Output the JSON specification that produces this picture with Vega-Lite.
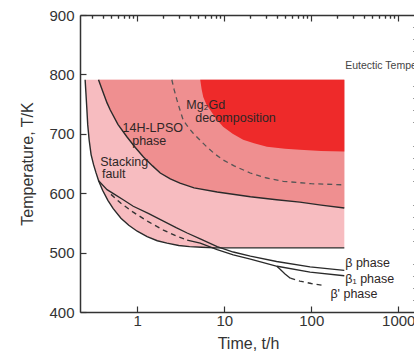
{
  "$schema": "https://vega.github.io/schema/vega-lite/v6.json",
  "width": 336,
  "height": 297,
  "autosize": {"type": "none"},
  "padding": {"left": 80, "top": 15, "right": 0, "bottom": 42},
  "background": "white",
  "config": {
    "view": {"stroke": null},
    "font": "Liberation Sans",
    "axis": {
      "domainColor": "#333333",
      "domainWidth": 1.5,
      "tickColor": "#333333",
      "tickWidth": 1.2,
      "labelColor": "#333333",
      "titleColor": "#333333",
      "labelFont": "Liberation Sans",
      "titleFont": "Liberation Sans",
      "titleFontWeight": "normal",
      "grid": false
    }
  },
  "datasets": {
    "sf": [
      {"t": 0.252, "T": 791}, {"t": 0.257, "T": 770}, {"t": 0.263, "T": 745}, {"t": 0.27, "T": 715},
      {"t": 0.28, "T": 690}, {"t": 0.295, "T": 665}, {"t": 0.315, "T": 648}, {"t": 0.335, "T": 635},
      {"t": 0.36, "T": 621}, {"t": 0.4, "T": 605}, {"t": 0.46, "T": 588}, {"t": 0.53, "T": 574},
      {"t": 0.65, "T": 558}, {"t": 0.8, "T": 546}, {"t": 1.0, "T": 536}, {"t": 1.3, "T": 527},
      {"t": 1.7, "T": 520}, {"t": 2.2, "T": 516}, {"t": 3.0, "T": 512}, {"t": 4.0, "T": 510},
      {"t": 5.5, "T": 509}, {"t": 8, "T": 508}, {"t": 240, "T": 508}
    ],
    "lpso": [
      {"t": 0.359, "T": 791}, {"t": 0.41, "T": 768}, {"t": 0.45, "T": 752}, {"t": 0.49, "T": 740},
      {"t": 0.6, "T": 716}, {"t": 0.76, "T": 695}, {"t": 0.95, "T": 677}, {"t": 1.18, "T": 661},
      {"t": 1.5, "T": 646}, {"t": 1.84, "T": 634}, {"t": 2.4, "T": 624}, {"t": 3.1, "T": 617},
      {"t": 4.5, "T": 609}, {"t": 8.3, "T": 602}, {"t": 20, "T": 594}, {"t": 40, "T": 589},
      {"t": 74, "T": 585}, {"t": 130, "T": 580}, {"t": 240, "T": 575}
    ],
    "mggd": [
      {"t": 2.5, "T": 791}, {"t": 2.65, "T": 775}, {"t": 2.86, "T": 757}, {"t": 3.1, "T": 740},
      {"t": 3.38, "T": 723}, {"t": 3.9, "T": 710}, {"t": 4.4, "T": 701}, {"t": 5.3, "T": 689},
      {"t": 6.3, "T": 678}, {"t": 7.8, "T": 666}, {"t": 9.7, "T": 656}, {"t": 13, "T": 646},
      {"t": 19.9, "T": 634}, {"t": 30, "T": 626}, {"t": 47.6, "T": 620}, {"t": 100, "T": 616},
      {"t": 240, "T": 614}
    ],
    "red": [
      {"t": 5.3, "T": 791}, {"t": 5.5, "T": 775}, {"t": 5.74, "T": 762}, {"t": 6.2, "T": 750},
      {"t": 6.9, "T": 740}, {"t": 8, "T": 726}, {"t": 9.7, "T": 712}, {"t": 12.5, "T": 700},
      {"t": 16.5, "T": 690}, {"t": 22, "T": 684}, {"t": 31, "T": 678}, {"t": 50, "T": 675},
      {"t": 74, "T": 673}, {"t": 130, "T": 671}, {"t": 240, "T": 670}
    ],
    "beta": [
      {"t": 0.36, "T": 621}, {"t": 0.45, "T": 606}, {"t": 0.55, "T": 598}, {"t": 0.69, "T": 589},
      {"t": 0.9, "T": 578}, {"t": 1.34, "T": 566}, {"t": 2, "T": 553}, {"t": 2.8, "T": 542},
      {"t": 3.75, "T": 533}, {"t": 5.3, "T": 523}, {"t": 8.3, "T": 510}, {"t": 12.7, "T": 501},
      {"t": 20, "T": 494}, {"t": 40, "T": 485}, {"t": 97, "T": 476}, {"t": 240, "T": 470}
    ],
    "beta1": [
      {"t": 3.75, "T": 521}, {"t": 5.3, "T": 516}, {"t": 8.3, "T": 505}, {"t": 12.7, "T": 496},
      {"t": 20, "T": 489}, {"t": 40.6, "T": 477}, {"t": 97, "T": 467}, {"t": 240, "T": 461}
    ],
    "dashes": [
      {"seg": "a", "t": 0.5, "T": 598}, {"seg": "a", "t": 0.65, "T": 583}, {"seg": "a", "t": 0.9, "T": 568},
      {"seg": "a", "t": 1.34, "T": 552}, {"seg": "a", "t": 2, "T": 538}, {"seg": "a", "t": 2.8, "T": 528},
      {"seg": "a", "t": 3.75, "T": 521},
      {"seg": "b", "t": 57.5, "T": 457}, {"seg": "b", "t": 74, "T": 452}, {"seg": "b", "t": 100, "T": 448},
      {"seg": "b", "t": 135, "T": 445}
    ],
    "branch": [
      {"t": 40.2, "T": 477}, {"t": 43.9, "T": 472}, {"t": 50, "T": 464}, {"t": 57.5, "T": 457}
    ],
    "labelsLeft": [
      {"t": 3.66, "T": 748, "label": "Mg₂Gd"},
      {"t": 4.64, "T": 727, "label": "decomposition"},
      {"t": 0.376, "T": 653, "label": "Stacking"},
      {"t": 0.393, "T": 632, "label": "fault"},
      {"t": 246, "T": 482, "label": "β  phase"},
      {"t": 246, "T": 456, "label": "β₁ phase"},
      {"t": 166, "T": 430, "label": "β' phase"}
    ],
    "labelsCenter": [
      {"t": 1.507, "T": 710, "label": "14H-LPSO"},
      {"t": 1.374, "T": 688, "label": "phase"}
    ],
    "eutectic": [
      {"t": 246, "T": 814, "label": "Eutectic Temperature"}
    ]
  },
  "resolve": {"axis": {"x": "independent", "y": "independent"}},
  "layer": [
    {
      "data": {"name": "sf"},
      "mark": {"type": "area", "color": "#f7bcc0"},
      "encoding": {
        "x": {
          "field": "t", "type": "quantitative",
          "scale": {"type": "log", "domain": [0.22, 1600], "nice": false},
          "axis": {
            "values": [1, 10, 100, 1000],
            "format": "d",
            "tickSize": -6,
            "labelOverlap": false,
            "labelFlush": false,
            "labelFontSize": 15,
            "labelPadding": 7,
            "title": "Time,  t/h",
            "titleFontSize": 16,
            "titlePadding": 7
          }
        },
        "y": {
          "field": "T", "type": "quantitative",
          "scale": {"domain": [400, 900], "nice": false, "zero": false},
          "axis": {
            "values": [400, 500, 600, 700, 800, 900],
            "format": "d",
            "tickSize": -6,
            "labelOverlap": false,
            "labelFlush": false,
            "labelFontSize": 15,
            "labelPadding": 12,
            "title": "Temperature,  T/K",
            "titleFontSize": 16,
            "titlePadding": 13
          }
        },
        "y2": {"datum": 791}
      }
    },
    {
      "data": {"name": "lpso"},
      "mark": {"type": "area", "color": "#ef8f90"},
      "encoding": {
        "x": {
          "field": "t", "type": "quantitative",
          "axis": {
            "values": [0.3, 0.4, 0.5, 0.6, 0.7, 0.8, 0.9, 2, 3, 4, 5, 6, 7, 8, 9, 20, 30, 40, 50, 60, 70, 80, 90, 200, 300, 400, 500, 600, 700, 800, 900],
            "labels": false,
            "domain": false,
            "tickSize": -3,
            "title": null
          }
        },
        "y": {
          "field": "T", "type": "quantitative",
          "axis": {
            "values": [420, 440, 460, 480, 520, 540, 560, 580, 620, 640, 660, 680, 720, 740, 760, 780, 820, 840, 860, 880],
            "labels": false,
            "domain": false,
            "tickSize": -3,
            "title": null
          }
        },
        "y2": {"datum": 791}
      }
    },
    {
      "data": {"name": "red"},
      "mark": {"type": "area", "color": "#ee2a2a"},
      "encoding": {
        "x": {
          "field": "t", "type": "quantitative",
          "axis": {
            "orient": "top",
            "values": [1, 10, 100, 1000],
            "labels": false,
            "tickSize": -6,
            "title": null
          }
        },
        "y": {"field": "T", "type": "quantitative", "axis": null},
        "y2": {"datum": 791}
      }
    },
    {
      "data": {"name": "sf"},
      "mark": {"type": "line", "color": "#2a2a2a", "strokeWidth": 1.4},
      "encoding": {
        "x": {
          "field": "t", "type": "quantitative",
          "axis": {
            "orient": "top",
            "values": [0.3, 0.4, 0.5, 0.6, 0.7, 0.8, 0.9, 2, 3, 4, 5, 6, 7, 8, 9, 20, 30, 40, 50, 60, 70, 80, 90, 200, 300, 400, 500, 600, 700, 800, 900],
            "labels": false,
            "domain": false,
            "tickSize": -3,
            "title": null
          }
        },
        "y": {"field": "T", "type": "quantitative", "axis": null}
      }
    },
    {
      "data": {"name": "lpso"},
      "mark": {"type": "line", "color": "#2a2a2a", "strokeWidth": 1.4},
      "encoding": {
        "x": {"field": "t", "type": "quantitative", "axis": null},
        "y": {"field": "T", "type": "quantitative", "axis": null}
      }
    },
    {
      "data": {"name": "mggd"},
      "mark": {"type": "line", "color": "#555555", "strokeWidth": 1.3, "strokeDash": [5, 4]},
      "encoding": {
        "x": {"field": "t", "type": "quantitative", "axis": null},
        "y": {"field": "T", "type": "quantitative", "axis": null}
      }
    },
    {
      "data": {"name": "beta"},
      "mark": {"type": "line", "color": "#2a2a2a", "strokeWidth": 1.3},
      "encoding": {
        "x": {"field": "t", "type": "quantitative", "axis": null},
        "y": {"field": "T", "type": "quantitative", "axis": null}
      }
    },
    {
      "data": {"name": "beta1"},
      "mark": {"type": "line", "color": "#2a2a2a", "strokeWidth": 1.3},
      "encoding": {
        "x": {"field": "t", "type": "quantitative", "axis": null},
        "y": {"field": "T", "type": "quantitative", "axis": null}
      }
    },
    {
      "data": {"name": "branch"},
      "mark": {"type": "line", "color": "#2a2a2a", "strokeWidth": 1.3},
      "encoding": {
        "x": {"field": "t", "type": "quantitative", "axis": null},
        "y": {"field": "T", "type": "quantitative", "axis": null}
      }
    },
    {
      "data": {"name": "dashes"},
      "mark": {"type": "line", "color": "#333333", "strokeWidth": 1.4, "strokeDash": [5, 4]},
      "encoding": {
        "x": {"field": "t", "type": "quantitative", "axis": null},
        "y": {"field": "T", "type": "quantitative", "axis": null},
        "detail": {"field": "seg"}
      }
    },
    {
      "mark": {"type": "rule", "color": "#333333", "strokeWidth": 1.5, "strokeDash": [6, 4]},
      "encoding": {
        "y": {"datum": 798, "type": "quantitative", "axis": null}
      }
    },
    {
      "data": {"name": "labelsLeft"},
      "mark": {"type": "text", "align": "left", "baseline": "middle", "fontSize": 12.5, "color": "#2e2626", "font": "Liberation Sans"},
      "encoding": {
        "x": {"field": "t", "type": "quantitative", "axis": null},
        "y": {"field": "T", "type": "quantitative", "axis": null},
        "text": {"field": "label"}
      }
    },
    {
      "data": {"name": "labelsCenter"},
      "mark": {"type": "text", "align": "center", "baseline": "middle", "fontSize": 12.5, "color": "#2e2626", "font": "Liberation Sans"},
      "encoding": {
        "x": {"field": "t", "type": "quantitative", "axis": null},
        "y": {"field": "T", "type": "quantitative", "axis": null},
        "text": {"field": "label"}
      }
    },
    {
      "data": {"name": "eutectic"},
      "mark": {"type": "text", "align": "left", "baseline": "middle", "fontSize": 10.5, "color": "#444444", "font": "Liberation Sans"},
      "encoding": {
        "x": {"field": "t", "type": "quantitative", "axis": null},
        "y": {"field": "T", "type": "quantitative", "axis": null},
        "text": {"field": "label"}
      }
    }
  ]
}
